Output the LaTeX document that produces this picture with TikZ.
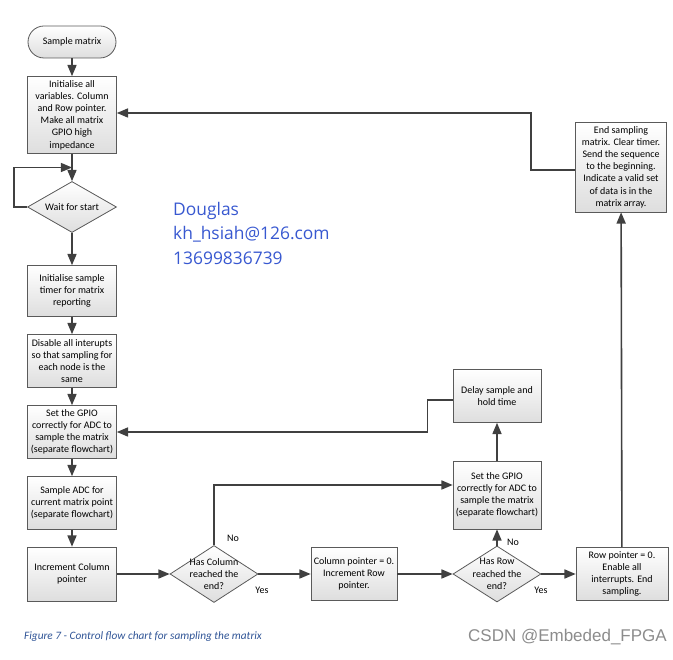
\documentclass[tikz,border=0pt]{standalone}
\usepackage{fontspec}
\setmainfont{Carlito}
\newfontfamily\contactfont{Open Sans}
\newfontfamily\markfont{Liberation Sans}
\usetikzlibrary{positioning,shapes,arrows,calc}

\definecolor{linegray}{HTML}{404040}
\definecolor{framegray}{HTML}{5A5A5A}
\definecolor{contactblue}{HTML}{3858D0}
\definecolor{captionblue}{HTML}{2F5496}
\definecolor{markgray}{HTML}{8C8C8C}

\begin{document}
\begin{tikzpicture}[x=1pt,y=-1pt,>=triangle 45,
    every node/.style={font=\fontsize{10}{12.2}\selectfont},
    box/.style={draw=framegray,line width=0.8pt,top color=white,bottom color=black!13,
        align=center,minimum width=89pt,inner sep=2pt},
    terminal/.style={box,rounded corners=16pt,minimum width=88pt,minimum height=32pt},
    decision/.style={box,shape=diamond,inner sep=0pt,minimum width=88pt},
    flow/.style={draw=linegray,line width=1.6pt,->},
    answer/.style={inner sep=1pt}]
    \useasboundingbox (0,0) rectangle (673,660);

    % Left column
    \node[terminal] (start) at (72,42) {Sample matrix};
    \node[box,minimum height=77pt] (init) at (72,115)
        {Initialise all\\variables. Column\\and Row pointer.\\Make all matrix\\GPIO high\\impedance};
    \node[decision,minimum width=89pt,minimum height=51pt,
        label={center:Wait for start}] (wait) at (72,207) {};
    \node[box,minimum height=51pt] (timer) at (72,291)
        {Initialise sample\\timer for matrix\\reporting};
    \node[box,minimum height=53pt] (disable) at (72,361)
        {Disable all interupts\\so that sampling for\\each node is the\\same};
    \node[box,minimum height=53pt] (gpio) at (72,432)
        {Set the GPIO\\correctly for ADC to\\sample the matrix\\(separate flowchart)};
    \node[box,minimum height=53pt] (adc) at (72,503)
        {Sample ADC for\\current matrix point\\(separate flowchart)};
    \node[box,minimum height=54pt] (inccol) at (72,574)
        {Increment Column\\pointer};

    % Bottom row
    \node[decision,minimum height=57pt,
        label={[align=center]center:Has Column\\reached the\\end?}] (colend) at (214,574) {};
    \node[box,minimum width=86pt,minimum height=53pt] (colzero) at (354,574)
        {Column pointer = 0.\\Increment Row\\pointer.};
    \node[decision,minimum height=56pt,
        label={[align=center]center:Has Row\\reached the\\end?}] (rowend) at (497,574) {};
    \node[box,minimum width=92pt,minimum height=53pt] (rowzero) at (622,574)
        {Row pointer = 0.\\Enable all\\interrupts. End\\sampling.};

    % Right side
    \node[box,minimum width=88pt,minimum height=68pt] (gpiob) at (497,495)
        {Set the GPIO\\correctly for ADC to\\sample the matrix\\(separate flowchart)};
    \node[box,minimum width=88pt,minimum height=53pt] (delay) at (497,396)
        {Delay sample and\\hold time};
    \node[box,minimum width=91pt,minimum height=90pt] (endsamp) at (621,167)
        {End sampling\\matrix. Clear timer.\\Send the sequence\\to the beginning.\\Indicate a valid set\\of data is in the\\matrix array.};

    % Connectors
    \draw[flow] (start) -- (init);
    \draw[flow] (init) -- (wait);
    \draw[flow] (wait.west) -- ++(-13,0) |- ($(init.south)!.5!(wait.north)$);
    \draw[flow] (wait) -- (timer);
    \draw[flow] (timer) -- (disable);
    \draw[flow] (disable) -- (gpio);
    \draw[flow] (gpio) -- (adc);
    \draw[flow] (adc) -- (inccol);
    \draw[flow] (inccol) -- (colend);
    \draw[flow] (colend) -- (colzero);
    \draw[flow] (colzero) -- (rowend);
    \draw[flow] (rowend) -- (rowzero);
    \draw[flow] (colend.north) |- ([yshift=10pt]gpiob.west);
    \draw[flow] (rowend) -- (gpiob);
    \draw[flow] (gpiob) -- (delay);
    \draw[flow] ([yshift=-4pt]delay.west) -- ++(-25,0) |- (gpio.east);
    \draw[flow] (rowzero) -- (endsamp);
    \draw[flow] ([yshift=-3pt]endsamp.west) -- ++(-44,0) |- ([yshift=2pt]init.east);

    % Yes / No
    \node[answer] (colno) at (233,538) {No};
    \node[answer] (colyes) at (262,590) {Yes};
    \node[answer] (rowno) at (513,542) {No};
    \node[answer] (rowyes) at (541,590) {Yes};

    % Contact text
    \node[anchor=west,inner sep=0pt,text=contactblue,font=\contactfont\fontsize{17.4}{20}\selectfont]
        (name) at (173,211) {Douglas};
    \node[anchor=west,inner sep=0pt,text=contactblue,font=\contactfont\fontsize{17.4}{20}\selectfont]
        (mail) at (173,234) {kh\_hsiah@126.com};
    \node[anchor=west,inner sep=0pt,text=contactblue,font=\contactfont\fontsize{17.4}{20}\selectfont]
        (phone) at (173,258) {13699836739};

    % Caption and watermark
    \node[anchor=west,inner sep=0pt,text=captionblue,font=\itshape\fontsize{11.3}{13}\selectfont]
        (caption) at (24,637) {Figure 7 - Control flow chart for sampling the matrix};
    \node[anchor=east,inner sep=0pt,text=markgray,font=\markfont\fontsize{17}{20}\selectfont]
        (mark) at (667,637) {CSDN @Embeded\_FPGA};
\end{tikzpicture}
\end{document}
